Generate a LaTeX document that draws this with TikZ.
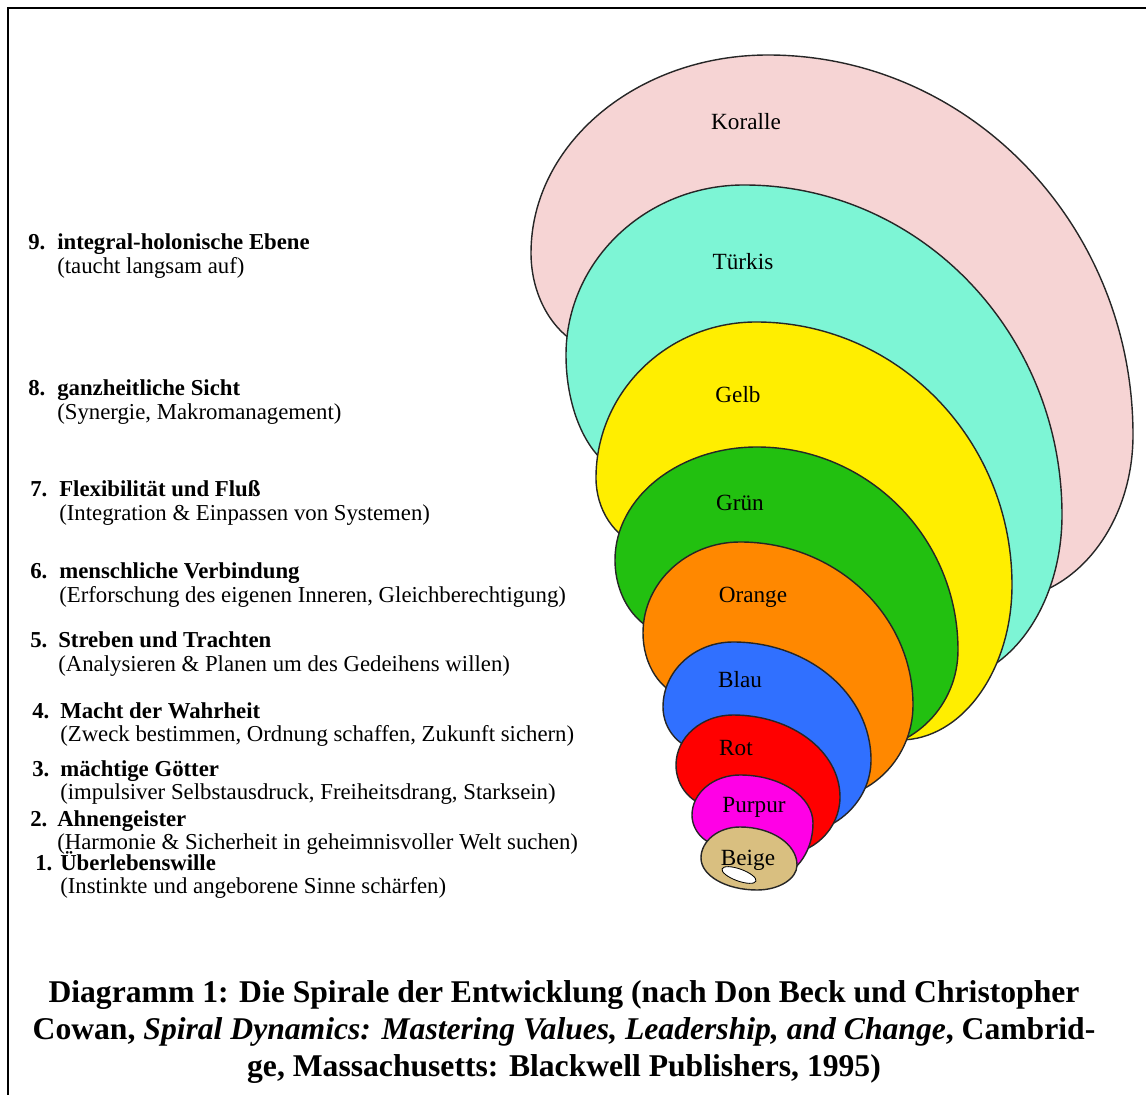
\documentclass[tikz,border=0pt]{standalone}
\usepackage{fontspec}
\setmainfont{Liberation Serif}
\definecolor{koralle}{RGB}{246,212,212}
\definecolor{tuerkis}{RGB}{125,245,213}
\definecolor{gelb}{RGB}{255,238,0}
\definecolor{gruen}{RGB}{34,192,16}
\definecolor{orange}{RGB}{255,136,0}
\definecolor{blau}{RGB}{48,112,255}
\definecolor{rot}{RGB}{255,0,0}
\definecolor{purpur}{RGB}{255,0,230}
\definecolor{beige}{RGB}{217,191,128}

\begin{document}
\begin{tikzpicture}[x=0.025cm, y=0.025cm,
	schale/.style={draw=black!85, line width=1pt},
	farbe/.style={font=\fontsize{16.5}{18}\selectfont},
	nummer/.style={anchor=base west, inner sep=0pt, font=\fontsize{16.2}{16.4}\selectfont\bfseries},
	ebene/.style={anchor=base west, inner sep=0pt, font=\fontsize{16.2}{16.4}\selectfont},
	titel/.style={align=center, inner sep=0pt, font=\fontsize{22.5}{26.3}\selectfont\bfseries}]
	\newcommand{\ZWEI}[2]{\begin{tabular}[t]{@{}l@{}}\textbf{#1}\\#2\end{tabular}}
	% Schale: links unten -> links -> oben -> rechts -> unten, Rest verdeckt
	\newcommand{\SCHALE}[9]{arc[start angle=#1, end angle=180, x radius=#2, y radius=#3]
		arc[start angle=180, end angle=90, x radius=#4, y radius=#5]
		arc[start angle=90, end angle=0, x radius=#6, y radius=#7]
		arc[start angle=0, end angle=-90, x radius=#8, y radius=#9] -- cycle}
	\useasboundingbox (0,0) rectangle (1146,-1095);
	\draw[line width=1.4pt] (8,-1095) -- (8,-8) -- (1146,-8);
	% die Spirale, von aussen nach innen
	\draw[schale, fill=koralle] (583.64,-346.97) \SCHALE{250}{80}{100}{237}{198}{365}{380}{133}{165};
	\draw[schale, fill=tuerkis] (612.06,-467.76) \SCHALE{250}{70}{120}{178}{170}{318}{330}{122}{167};
	\draw[schale, fill=gelb] (640.47,-545.61) \SCHALE{255}{60}{70}{160}{156}{256}{263}{112}{155};
	\draw[schale, fill=gruen] (664.58,-633.86) \SCHALE{260}{60}{75}{142}{113}{201}{203}{98}{100};
	\draw[schale, fill=orange] (684.32,-697.01) \SCHALE{260}{50}{65}{97}{91}{173}{163}{93}{95};
	\draw[schale, fill=blau] (704.08,-751.83) \SCHALE{265}{45}{45}{70}{65}{138}{118}{81}{75};
	\draw[schale, fill=rot] (712.51,-806.84) \SCHALE{265}{40}{42}{57}{50}{107}{82}{60}{58};
	\draw[schale, fill=purpur] (723.95,-846.88) \SCHALE{265}{35}{32}{48}{40}{73}{48}{43}{55};
	\draw[schale, fill=beige] (701,-858) arc[start angle=180, end angle=90, x radius=39, y radius=31]
		arc[start angle=90, end angle=0, x radius=57, y radius=38]
		arc[start angle=0, end angle=-90, x radius=40, y radius=25]
		arc[start angle=-90, end angle=-180, x radius=56, y radius=32] -- cycle;
	\draw[fill=white, line width=0.6pt, rotate around={-20:(739,-875)}] (739,-875) ellipse [x radius=18, y radius=6];
	% Farbnamen
	\node[farbe] (koralle) at (746,-122) {Koralle};
	\node[farbe] (tuerkis) at (743,-262) {Türkis};
	\node[farbe] (gelb) at (738,-395) {Gelb};
	\node[farbe] (gruen) at (740,-503) {Grün};
	\node[farbe] (orange) at (753,-597) {Orange};
	\node[farbe] (blau) at (740,-680) {Blau};
	\node[farbe] (rot) at (736,-748) {Rot};
	\node[farbe] (purpur) at (754,-807) {Purpur};
	\node[farbe] (beige) at (748,-860) {Beige};
	% Ebenen links
	\node[nummer] (n9) at (28,-250) {9.};
	\node[ebene] (e9) at (57,-250) {\ZWEI{integral-holonische Ebene}{(taucht langsam auf)}};
	\node[nummer] (n8) at (28,-396) {8.};
	\node[ebene] (e8) at (57,-396) {\ZWEI{ganzheitliche Sicht}{(Synergie, Makromanagement)}};
	\node[nummer] (n7) at (30,-497) {7.};
	\node[ebene] (e7) at (59,-497) {\ZWEI{Flexibilität und Fluß}{(Integration \& Einpassen von Systemen)}};
	\node[nummer] (n6) at (30,-579) {6.};
	\node[ebene] (e6) at (59,-579) {\ZWEI{menschliche Verbindung}{(Erforschung des eigenen Inneren, Gleichberechtigung)}};
	\node[nummer] (n5) at (30,-648) {5.};
	\node[ebene] (e5) at (58,-648) {\ZWEI{Streben und Trachten}{(Analysieren \& Planen um des Gedeihens willen)}};
	\node[nummer] (n4) at (32,-718) {4.};
	\node[ebene] (e4) at (60,-718) {\ZWEI{Macht der Wahrheit}{(Zweck bestimmen, Ordnung schaffen, Zukunft sichern)}};
	\node[nummer] (n3) at (32,-776) {3.};
	\node[ebene] (e3) at (60,-776) {\ZWEI{mächtige Götter}{(impulsiver Selbstausdruck, Freiheitsdrang, Starksein)}};
	\node[nummer] (n2) at (30,-826) {2.};
	\node[ebene] (e2) at (57,-826) {\ZWEI{Ahnengeister}{(Harmonie \& Sicherheit in geheimnisvoller Welt suchen)}};
	\node[nummer] (n1) at (35,-870) {1.};
	\node[ebene] (e1) at (60,-870) {\ZWEI{Überlebenswille}{(Instinkte und angeborene Sinne schärfen)}};
	% Bildunterschrift
	\node[titel] (unterschrift) at (564,-1032) {Diagramm 1: Die Spirale der Entwicklung (nach Don Beck und Christopher\\
		Cowan, \textit{Spiral Dynamics: Mastering Values, Leadership, and Change}, Cambrid-\\
		ge, Massachusetts: Blackwell Publishers, 1995)};
\end{tikzpicture}
\end{document}
